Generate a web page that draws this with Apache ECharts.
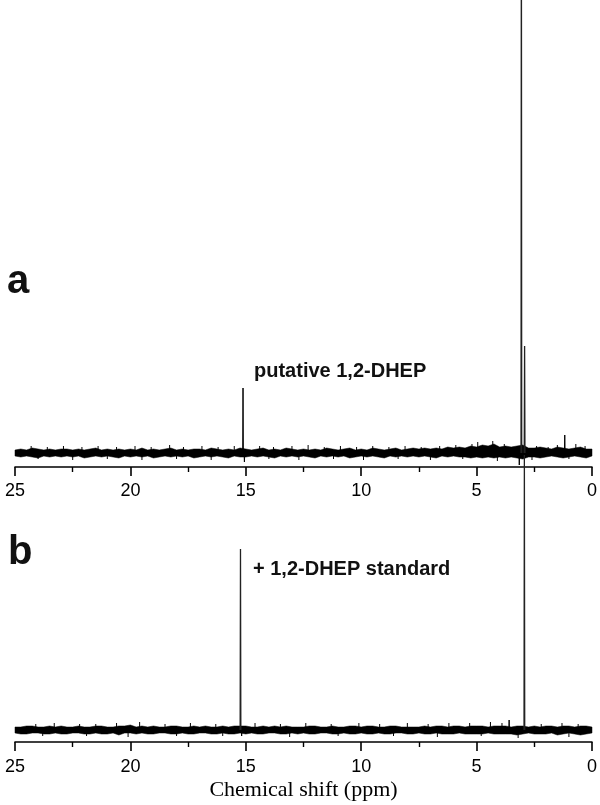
<!DOCTYPE html>
<html><head><meta charset="utf-8">
<script src="https://cdn.jsdelivr.net/npm/echarts@6/dist/echarts.min.js"></script>
<style>html,body{margin:0;padding:0;background:#fff}#c{width:600px;height:805px}</style>
</head><body><div id="c"></div>
<script>
// chemical shift grid (ppm) for the baseline-noise envelope
const noisePpm = [25,24.75,24.5,24.25,24,23.75,23.5,23.25,23,22.75,22.5,22.25,22,21.75,21.5,21.25,21,20.75,20.5,20.25,
  20,19.75,19.5,19.25,19,18.75,18.5,18.25,18,17.75,17.5,17.25,17,16.75,16.5,16.25,16,15.75,15.5,15.25,
  15,14.75,14.5,14.25,14,13.75,13.5,13.25,13,12.75,12.5,12.25,12,11.75,11.5,11.25,11,10.75,10.5,10.25,
  10,9.75,9.5,9.25,9,8.75,8.5,8.25,8,7.75,7.5,7.25,7,6.75,6.5,6.25,6,5.75,5.5,5.25,
  5,4.75,4.5,4.25,4,3.75,3.5,3.25,3,2.75,2.5,2.25,2,1.75,1.5,1.25,1,0.75,0.5,0.25,0];
// spectrum a: noise envelope (upper / lower edge)
const noiseUpA = [3,4,3,5,4,3,4,3,4,4, 3,4,3,4,5,3,4,3,4,3, 4,3,5,3,4,3,4,5,3,4, 3,4,4,3,5,4,3,4,3,5,
  4,3,4,5,3,4,3,5,4,3, 4,3,4,3,5,4,3,4,5,3, 4,3,5,4,3,4,5,3,4,5, 4,5,4,5,4,6,5,6,5,7,
  6,8,7,9,6,7,6,7,8,5, 5,6,5,4,6,5,4,5,6,4,4];
const noiseLowA = [-3,-4,-3,-4,-5,-3,-4,-3,-4,-3, -4,-3,-5,-4,-3,-4,-3,-4,-5,-3, -4,-3,-4,-3,-5,-4,-3,-4,-3,-4, -3,-5,-4,-3,-4,-3,-4,-5,-3,-4,
  -4,-3,-4,-3,-4,-5,-3,-4,-3,-4, -3,-4,-5,-3,-4,-3,-4,-3,-5,-4, -3,-4,-3,-4,-5,-3,-4,-3,-4,-3, -4,-3,-4,-5,-3,-4,-3,-4,-4,-5,
  -4,-5,-4,-5,-4,-5,-4,-5,-6,-4, -4,-5,-4,-3,-4,-5,-4,-3,-4,-5,-3];
// spectrum b: noise envelope
const noiseUpB = [3,3,4,4,3,3,4,3,4,3, 3,4,3,3,4,4,3,3,4,4, 5,3,4,3,4,3,3,4,4,3, 3,4,3,4,3,3,4,3,4,4,
  4,3,3,4,3,4,3,4,3,3, 3,4,4,3,3,4,3,3,4,4, 3,4,4,3,3,4,4,3,3,3, 3,4,3,4,4,3,4,4,3,4,
  4,4,3,4,4,4,3,4,4,3, 4,3,4,4,3,4,4,3,4,4,3];
const noiseLowB = [-3,-4,-4,-3,-3,-4,-4,-3,-4,-4, -3,-3,-4,-4,-3,-4,-4,-3,-5,-3, -3,-4,-3,-4,-4,-3,-3,-4,-4,-3, -4,-4,-3,-3,-4,-4,-3,-4,-4,-3,
  -4,-3,-4,-4,-3,-3,-4,-4,-3,-4, -3,-4,-4,-3,-3,-4,-4,-3,-4,-4, -3,-4,-4,-3,-4,-4,-3,-3,-4,-4, -3,-4,-4,-3,-4,-4,-4,-3,-4,-4,
  -4,-4,-3,-4,-4,-4,-4,-5,-4,-3, -4,-4,-4,-3,-5,-4,-3,-4,-5,-4,-3];
// individual noise spikes: [ppm, intensity]
const spikesA = [[24.3,7],[23.6,6],[22.9,7],[22.1,6],[21.4,7],[20.6,6],[19.8,7],[19.1,6],[18.3,8],[17.7,6],[16.9,7],[16.2,6],[15.5,7],
  [14.4,7],[13.8,6],[13.0,7],[12.3,8],[11.6,6],[10.9,7],[10.2,6],[9.5,7],[8.8,6],[8.1,7],[7.4,6],[6.6,7],[5.9,8],[5.2,9],
  [4.95,11],[4.3,12],[3.8,9],[2.4,7],[1.9,6],[1.5,8],[0.7,9],[0.3,7],
  [24.0,-6],[22.5,-7],[21.0,-6],[19.5,-7],[18.0,-6],[16.5,-7],[14.0,-6],[12.7,-7],[11.2,-6],[9.9,-7],[8.4,-6],[7.0,-7],
  [5.6,-6],[4.1,-8],[2.6,-7],[1.0,-6]];
const spikesB = [[24.1,6],[23.3,7],[22.2,6],[21.5,6],[20.6,7],[19.6,8],[18.5,6],[17.4,7],[16.3,6],[14.6,7],[13.5,6],[12.4,7],
  [11.3,6],[10.1,7],[9.2,6],[8.0,7],[7.1,6],[6.2,7],[5.3,7],[4.4,8],[3.9,7],[2.2,6],[1.3,7],[0.6,6],
  [23.8,-6],[21.9,-6],[20.1,-7],[18.0,-6],[16.0,-6],[13.1,-7],[11.0,-6],[8.6,-6],[6.7,-7],[4.8,-6],[3.2,-8],[1.0,-7]];
// resonance peaks: [ppm, intensity]
const peaksA = [[15.12,65],[15.06,-9],[3.15,-12],[3.06,600],[2.92,107],[1.18,18]];
const peaksB = [[15.23,181],[15.18,-6],[3.59,10],[2.93,275]];
const xTickValues = [25,20,15,10,5,0];
const xTickLabels = ['25','20','15','10','5','0'];

const chart = echarts.init(document.getElementById('c'), null, {renderer:'canvas'});

function bandSeries(idx, up, low){
  return {type:'custom', xAxisIndex:idx, yAxisIndex:idx, silent:true, data:[[12.5,0]],
    renderItem:(params, api) => {
      const pts = [];
      for (let i = 0; i < noisePpm.length; i++) pts.push(api.coord([noisePpm[i], up[i]]));
      for (let i = noisePpm.length - 1; i >= 0; i--) pts.push(api.coord([noisePpm[i], low[i]]));
      return {type:'polygon', shape:{points:pts}, style:{fill:'#000', stroke:'#000', lineWidth:0.5}};
    }};
}
function spikeSeries(idx, spikes){
  return {type:'custom', xAxisIndex:idx, yAxisIndex:idx, silent:true, data:spikes,
    renderItem:(params, api) => {
      const a = api.coord([api.value(0), 0]);
      const b = api.coord([api.value(0), api.value(1)]);
      return {type:'line', shape:{x1:a[0], y1:a[1], x2:b[0], y2:b[1]}, style:{stroke:'#000', lineWidth:1}};
    }};
}
function peakSeries(idx, peaks){
  return peaks.map(p => ({type:'line', xAxisIndex:idx, yAxisIndex:idx, symbol:'none', silent:true,
    data:[[p[0]+0.015,0],[p[0],p[1]],[p[0]-0.015,0]],
    lineStyle:{color: Math.abs(p[1])>100 ? '#222' : '#000', width: Math.abs(p[1])>100 ? 1.3 : 1}}));
}
function xAxis(idx, margin, name){
  const ax = {type:'value', gridIndex:idx, min:0, max:25, interval:5, inverse:true,
    axisLine:{show:true, onZero:false, lineStyle:{color:'#000', width:1.6}},
    axisTick:{show:true, length:9, lineStyle:{color:'#000', width:1.6}},
    minorTick:{show:true, splitNumber:2, length:5, lineStyle:{color:'#000', width:1.4}},
    splitLine:{show:false},
    axisLabel:{margin:margin, color:'#000', fontSize:18, fontFamily:'"Liberation Sans", Arial, sans-serif',
      formatter: v => { const k = xTickValues.indexOf(v); return k >= 0 ? xTickLabels[k] : String(v); }}};
  if (name){
    ax.name = name; ax.nameLocation='middle'; ax.nameGap = 37;
    ax.nameTextStyle = {color:'#000', fontSize:22, fontFamily:'"Liberation Serif", "Times New Roman", serif'};
  }
  return ax;
}

chart.setOption({
  animation:false,
  backgroundColor:'#fff',
  grid:[{left:15, right:5, top:0, height:467}, {left:15, right:5, top:450, height:292}],
  xAxis:[xAxis(0,15,null), xAxis(1,16,'Chemical shift (ppm)')],
  yAxis:[{type:'value', gridIndex:0, min:-14, max:453, show:false},
         {type:'value', gridIndex:1, min:-12, max:280, show:false}],
  series:[bandSeries(0, noiseUpA, noiseLowA), spikeSeries(0, spikesA), ...peakSeries(0, peaksA),
          bandSeries(1, noiseUpB, noiseLowB), spikeSeries(1, spikesB), ...peakSeries(1, peaksB)],
  graphic:[
    {type:'text', left:7, top:262, style:{text:'a', font:'bold 40px "Liberation Sans", Arial, sans-serif', fill:'#111'}},
    {type:'text', left:8, top:533, style:{text:'b', font:'bold 40px "Liberation Sans", Arial, sans-serif', fill:'#111'}},
    {type:'text', left:254, top:361, style:{text:'putative 1,2-DHEP', font:'bold 20px "Liberation Sans", Arial, sans-serif', fill:'#111'}},
    {type:'text', left:253, top:559, style:{text:'+ 1,2-DHEP standard', font:'bold 20px "Liberation Sans", Arial, sans-serif', fill:'#111'}}
  ]
});
</script></body></html>
